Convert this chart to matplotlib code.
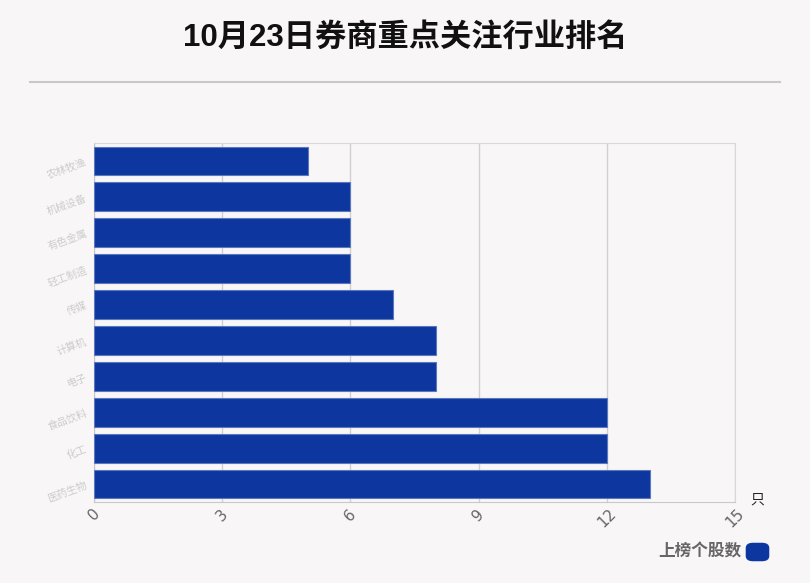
import matplotlib
matplotlib.use("Agg")
import matplotlib.pyplot as plt
from matplotlib.lines import Line2D
from matplotlib.patches import FancyBboxPatch

plt.rcParams['font.family'] = ['Noto Sans CJK SC', 'DejaVu Sans']

# data, top to bottom as shown
industries = ["农林牧渔", "机械设备", "有色金属", "轻工制造", "传媒",
              "计算机", "电子", "食品饮料", "化工", "医药生物"]
counts = [5, 6, 6, 6, 7, 8, 8, 12, 12, 13]
x_ticks = [0, 3, 6, 9, 12, 15]
series_name = "上榜个股数"
unit = "只"

bg = "#f9f6f7"
bar_color = "#0d369e"

fig = plt.figure(figsize=(8.1, 5.83), dpi=100, facecolor=bg)
ax = fig.add_axes([94 / 810, 1 - 502 / 583, 641 / 810, 359 / 583])
ax.set_facecolor(bg)

ypos = list(range(len(industries)))
ax.barh(ypos, counts, height=0.8, color=bar_color,
        edgecolor="#5a78c0", linewidth=0.8, zorder=3)

ax.set_ylim(len(industries) - 0.5, -0.5)
ax.set_xlim(0, 15)
ax.set_xticks(x_ticks)
ax.set_xticklabels([str(t) for t in x_ticks], rotation=45, fontsize=11,
                   color="#666666", family=['DejaVu Sans'])
ax.set_yticks(ypos)
ax.set_yticklabels(industries, rotation=20, fontsize=7.5, color="#cccccc")
ax.tick_params(axis="both", length=0, pad=4)
ax.tick_params(axis="x", pad=3)
ax.grid(axis="x", color="#d0d0d0", linewidth=1, zorder=0)
for s in ax.spines.values():
    s.set_color("#d8d8d8")
ax.spines["left"].set_color("#c8c8c8")
ax.spines["bottom"].set_color("#c8c8c8")

# title and separator
fig.text(0.5, 1 - 38 / 583, "10月23日券商重点关注行业排名", ha="center",
         va="center", fontsize=22.5, fontweight="bold", color="#111111",
         family=['Liberation Sans', 'Noto Sans CJK SC'])
fig.add_artist(Line2D([30 / 810, 780 / 810], [1 - 82 / 583, 1 - 82 / 583],
                      color="#c8c8c8", linewidth=1.5))

# unit label
fig.text(757 / 810, 1 - 500 / 583, unit, ha="center", va="center",
         fontsize=10, color="#222222")

# legend
fig.text(741 / 810, 1 - 551 / 583, series_name, ha="right", va="center",
         fontsize=12, fontweight="bold", color="#666666")
fig.add_artist(FancyBboxPatch((753 / 810, 1 - 556 / 583), 9 / 810, 8 / 583,
                              boxstyle="round,pad=0.009",
                              transform=fig.transFigure,
                              facecolor=bar_color, edgecolor="none"))

fig.savefig("out.png", dpi=100, facecolor=bg)
